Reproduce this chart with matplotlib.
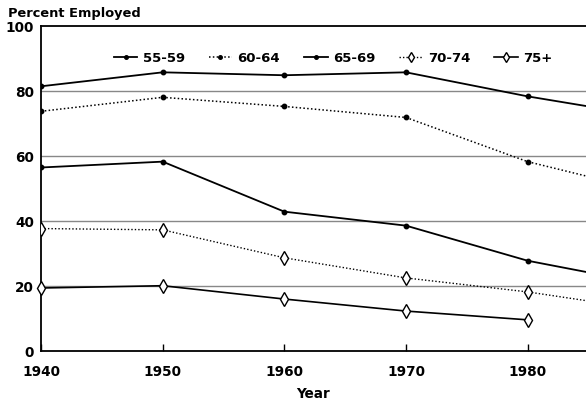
import matplotlib
matplotlib.use("Agg")
import matplotlib.pyplot as plt

plt.rcParams['font.family'] = ['DejaVu Sans']

years = [1940, 1950, 1960, 1970, 1980, 1985]
years_75 = [1940, 1950, 1960, 1970, 1980]
age_55_59 = [81.5, 85.8, 84.9, 85.8, 78.4, 75.3]
age_60_64 = [73.8, 78.1, 75.3, 71.9, 58.3, 53.7]
age_65_69 = [56.5, 58.3, 42.9, 38.6, 27.8, 24.2]
age_70_74 = [37.7, 37.3, 28.7, 22.5, 18.2, 15.4]
age_75_up = [19.4, 20.1, 16.0, 12.3, 9.6]
labels = ["55-59", "60-64", "65-69", "70-74", "75+"]
xticks = [1940, 1950, 1960, 1970, 1980]
yticks = [0, 20, 40, 60, 80, 100]

fig = plt.figure(figsize=(5.86, 4.03), dpi=100)
ax = fig.add_axes([0.07, 0.129, 0.93, 0.806])

dot = dict(marker='o', markersize=3.2, color='black', markevery=[0, 1, 2, 3, 4])
dia = dict(marker='d', markersize=7, markerfacecolor='white', markeredgecolor='black',
           color='black', markeredgewidth=1.0)

ax.plot(years, age_55_59, linestyle='-', linewidth=1.3, label=labels[0], **dot)
ax.plot(years, age_60_64, linestyle=(0, (1, 1.5)), linewidth=1.1, label=labels[1], **dot)
ax.plot(years, age_65_69, linestyle='-', linewidth=1.3, label=labels[2], **dot)
ax.plot(years, age_70_74, linestyle=(0, (1, 1.5)), linewidth=1.0, label=labels[3],
        markevery=[0, 1, 2, 3, 4], **dia, zorder=3)
ax.plot(years_75, age_75_up, linestyle='-', linewidth=1.2, label=labels[4], **dia,
        clip_on=False, zorder=3)

ax.set_xlim(1940, 1984.8)
ax.set_ylim(0, 100)
for g in [20, 40, 60, 80]:
    ax.axhline(g, color='#888888', linewidth=1.0, zorder=1)

ax.spines['right'].set_visible(False)
for s in ['left', 'bottom', 'top']:
    ax.spines[s].set_color('black')
    ax.spines[s].set_linewidth(1.3)

ax.set_xticks(xticks)
ax.set_xticklabels([str(x) for x in xticks], fontsize=9.8, fontweight='bold')
ax.set_yticks(yticks)
ax.set_yticklabels([str(y) for y in yticks], fontsize=9.8, fontweight='bold')
ax.tick_params(axis='x', direction='in', length=5, width=1.0, pad=10)
ax.tick_params(axis='y', length=0, pad=5)

ax.set_xlabel("Year", fontsize=9.8, fontweight='bold', labelpad=6)
fig.text(0.014, 0.967, "Percent Employed", fontsize=9.4, fontweight='bold',
         ha='left', va='center')

leg = ax.legend(loc='center', bbox_to_anchor=(0.536, 0.9015), ncol=5, frameon=False,
                handlelength=1.8, columnspacing=1.8, handletextpad=0.4,
                markerscale=0.8, prop={'weight': 'bold', 'size': 9.5})

fig.savefig("out.png", dpi=100)
